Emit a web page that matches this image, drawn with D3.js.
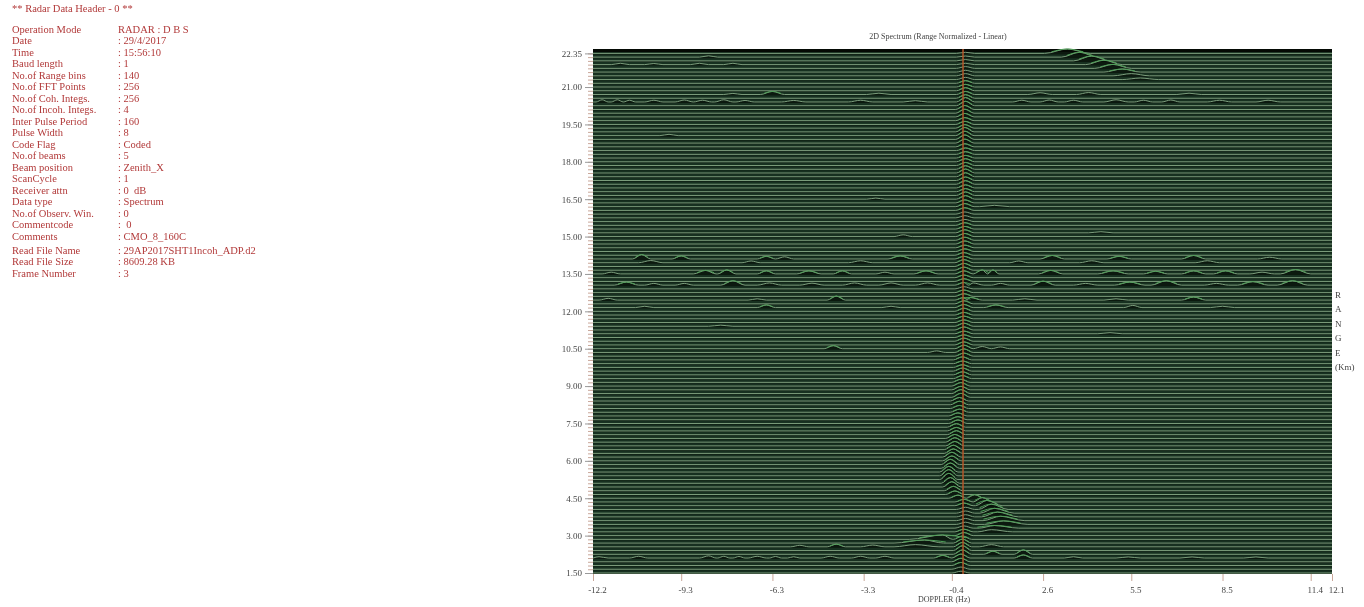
<!DOCTYPE html>
<html>
<head>
<meta charset="utf-8">
<title>2D Spectrum</title>
<script src="https://cdn.jsdelivr.net/npm/d3@7"></script>
<style>
  html, body { margin: 0; padding: 0; background: #fff; overflow: hidden; }
  svg { display: block; filter: blur(0.45px); }
  text { font-family: "Liberation Serif", serif; }
</style>
</head>
<body>
<div id="canvas"></div>
<script>
// Header block text
const headerLabels = ['Operation Mode', 'Date', 'Time', 'Baud length', 'No.of Range bins', 'No.of FFT Points',
  'No.of Coh. Integs.', 'No.of Incoh. Integs.', 'Inter Pulse Period', 'Pulse Width', 'Code Flag', 'No.of beams',
  'Beam position', 'ScanCycle', 'Receiver attn', 'Data type', 'No.of Observ. Win.', 'Commentcode', 'Comments'];
const headerValues = ['RADAR : D B S', ': 29/4/2017', ': 15:56:10', ': 1', ': 140', ': 256', ': 256', ': 4', ': 160', ': 8',
  ': Coded', ': 5', ': Zenith_X', ': 1', ': 0  dB', ': Spectrum', ': 0', ':  0', ': CMO_8_160C'];
const fileLabels = ['Read File Name', 'Read File Size', 'Frame Number'];
const fileValues = [': 29AP2017SHT1Incoh_ADP.d2', ': 8609.28 KB', ': 3'];

// Axis ticks
const rangeTicks = [1.5, 3, 4.5, 6, 7.5, 9, 10.5, 12, 13.5, 15, 16.5, 18, 19.5, 21, 22.35];
const dopplerTicks = [-12.2, -9.3, -6.3, -3.3, -0.4, 2.6, 5.5, 8.5, 11.4, 12.1];
const rangeLetters = ['R', 'A', 'N', 'G', 'E', '(Km)'];

// The 140 range gates, bottom to top (km)
const rangeGates = [1.5, 1.65, 1.8, 1.95, 2.1, 2.25, 2.4, 2.55, 2.7, 2.85,
  3, 3.15, 3.3, 3.45, 3.6, 3.75, 3.9, 4.05, 4.2, 4.35,
  4.5, 4.65, 4.8, 4.95, 5.1, 5.25, 5.4, 5.55, 5.7, 5.85,
  6, 6.15, 6.3, 6.45, 6.6, 6.75, 6.9, 7.05, 7.2, 7.35,
  7.5, 7.65, 7.8, 7.95, 8.1, 8.25, 8.4, 8.55, 8.7, 8.85,
  9, 9.15, 9.3, 9.45, 9.6, 9.75, 9.9, 10.05, 10.2, 10.35,
  10.5, 10.65, 10.8, 10.95, 11.1, 11.25, 11.4, 11.55, 11.7, 11.85,
  12, 12.15, 12.3, 12.45, 12.6, 12.75, 12.9, 13.05, 13.2, 13.35,
  13.5, 13.65, 13.8, 13.95, 14.1, 14.25, 14.4, 14.55, 14.7, 14.85,
  15, 15.15, 15.3, 15.45, 15.6, 15.75, 15.9, 16.05, 16.2, 16.35,
  16.5, 16.65, 16.8, 16.95, 17.1, 17.25, 17.4, 17.55, 17.7, 17.85,
  18, 18.15, 18.3, 18.45, 18.6, 18.75, 18.9, 19.05, 19.2, 19.35,
  19.5, 19.65, 19.8, 19.95, 20.1, 20.25, 20.4, 20.55, 20.7, 20.85,
  21, 21.15, 21.3, 21.45, 21.6, 21.75, 21.9, 22.05, 22.2, 22.35];

// Ground clutter ridge, one value per gate: where it peaks (Hz) and how tall (normalized)
const ridgeDoppler = [-.1, -.1, -.1, -.1, -.1, -.05, -.05, -.05, -.05, -.05,
  0, 0, 0, .05, .05, .05, .05, .05, 0, 0,
  -.2, -.3, -.35, -.4, -.45, -.5, -.5, -.5, -.45, -.45,
  -.4, -.4, -.35, -.35, -.3, -.3, -.3, -.25, -.25, -.25,
  -.2, -.2, -.2, -.15, -.15, -.15, -.15, -.1, -.1, -.1,
  -.1, -.1, -.05, -.05, -.05, -.05, -.05, -.05, 0, 0,
  0, 0, 0, 0, 0, 0, 0, 0, 0, 0,
  0, 0, 0, 0, 0, 0, 0, 0, 0, 0,
  0, 0, 0, 0, 0, 0, .03, .03, .03, .03,
  .03, .03, .03, .03, .03, .03, .03, .03, .03, .03,
  .05, .05, .05, .05, .05, .05, .05, .05, .05, .05,
  .05, .05, .05, .05, .03, .03, .03, .03, .03, .03,
  .03, .03, .03, .03, .03, .05, .05, .05, .05, .05,
  .05, .05, .05, .05, .05, .05, .05, .05, .05, .05];
const ridgeHeight = [.08, .1, .14, .16, .18, .2, .22, .2, .18, .15,
  .14, .12, .1, .1, .1, .1, .1, .1, .12, .12,
  .14, .16, .2, .24, .26, .28, .28, .26, .24, .24,
  .22, .22, .2, .2, .2, .2, .18, .18, .16, .16,
  .16, .14, .14, .14, .14, .16, .16, .18, .18, .16,
  .16, .14, .14, .14, .14, .12, .12, .14, .14, .16,
  .16, .14, .14, .12, .12, .14, .14, .12, .12, .12,
  .14, .14, .14, .12, .12, .12, .1, .12, .12, .12,
  .14, .14, .14, .14, .12, .12, .12, .12, .14, .14,
  .14, .14, .12, .12, .1, .1, .1, .12, .14, .14,
  .16, .16, .14, .14, .16, .16, .18, .18, .16, .14,
  .14, .12, .12, .12, .14, .18, .2, .2, .2, .16,
  .14, .14, .16, .18, .18, .2, .2, .16, .14, .14,
  .12, .12, .1, .1, .08, .08, .06, .06, .05, .05];

// Echoes away from the ridge: [gate km, doppler Hz, height, half width Hz]
const upperEcho = [[22.35, 3.4, .2, .75], [22.2, 3.8, .22, .6], [22.05, 4.2, .22, .6], [21.9, 4.6, .2, .6],
  [21.75, 4.9, .18, .6], [21.6, 5.2, .14, .6], [21.45, 5.5, .1, .6], [21.3, 5.8, .07, .6]];
const lowerEcho = [[4.5, .35, .16, .3], [4.35, .6, .2, .35], [4.2, .75, .24, .5], [4.05, .9, .24, .55], [3.9, 1.0, .22, .65],
  [3.75, 1.1, .22, .7], [3.6, 1.2, .2, .8], [3.45, 1.3, .16, .8], [3.3, 1.0, .12, .8], [3.15, .9, .1, .7],
  [2.85, -.7, .2, 1.1], [2.7, -1.3, .14, 1], [2.55, -1.6, .1, .8], [2.55, .9, .1, .4],
  [2.25, .95, .14, .3], [2.25, 1.95, .2, .3], [2.1, -.7, .12, .3], [2.1, 1.95, .14, .3]];

// Rows that ripple along the whole band: [gate km, doppler, height, half width]
const rippleRows = [
  [13.05, -11.1, .14, .4], [13.05, -10.2, .08, .3], [13.05, -9.2, .08, .3], [13.05, -7.6, .2, .4], [13.05, -6.4, .1, .4],
  [13.05, -5, .09, .4], [13.05, -3.6, .1, .4], [13.05, -2.4, .1, .4], [13.05, -1.2, .1, .4],
  [13.05, .3, .1, .35], [13.05, 1.2, .08, .3], [13.05, 2.6, .18, .4], [13.05, 4, .08, .4], [13.05, 5.45, .14, .5],
  [13.05, 6.65, .2, .5], [13.05, 8.3, .08, .4], [13.05, 9.5, .16, .5], [13.05, 10.8, .2, .5],
  [13.5, -11.6, .08, .3], [13.5, -8.5, .16, .4], [13.5, -7.8, .18, .3], [13.5, -6.5, .14, .3], [13.5, -5.1, .14, .4],
  [13.5, -4, .14, .3], [13.5, -2.6, .08, .3], [13.5, -1.25, .14, .4], [13.5, .6, .18, .3], [13.5, .95, .18, .2],
  [13.5, 2.85, .16, .4], [13.5, 4.9, .14, .5], [13.5, 6.3, .12, .4], [13.5, 7.55, .14, .4], [13.5, 8.6, .14, .4],
  [13.5, 9.8, .08, .4], [13.5, 10.9, .2, .5],
  [13.95, -10.3, .1, .4], [13.95, -7, .08, .3], [13.95, -3.4, .09, .4], [13.95, 1.8, .08, .3], [13.95, 4.2, .09, .4], [13.95, 8, .09, .4],
  [14.1, -10.6, .2, .3], [14.1, -9.3, .14, .3], [14.1, -6.5, .12, .3], [14.1, -5.9, .1, .3], [14.1, -2.1, .14, .4],
  [14.1, 2.9, .16, .4], [14.1, 5.1, .12, .4], [14.1, 7.55, .16, .4], [14.1, 10.05, .08, .4],
  [12.45, -4.2, .18, .3], [12.45, .2, .12, .4], [12.45, 2, .06, .4], [12.45, 7.55, .14, .4], [12.45, -11.7, .08, .3], [12.45, -6.8, .06, .3], [12.45, 5, .06, .4],
  [12.15, -10.5, .06, .3], [12.15, -6.5, .12, .3], [12.15, -2.4, .06, .3], [12.15, 1.05, .12, .4], [12.15, 5.55, .1, .3], [12.15, 8.5, .06, .4],
  [20.4, -11.9, .1, .2], [20.4, -11.4, .1, .2], [20.4, -11, .08, .2], [20.4, -10.2, .08, .3], [20.4, -9.2, .09, .3], [20.4, -8.6, .08, .3],
  [20.4, -7.9, .1, .3], [20.4, -7.2, .07, .3], [20.4, -5.6, .07, .4], [20.4, -3.4, .08, .4], [20.4, -1.6, .06, .4],
  [20.4, 1.9, .08, .3], [20.4, 2.8, .09, .3], [20.4, 3.6, .08, .3], [20.4, 5, .1, .4], [20.4, 5.9, .08, .3], [20.4, 6.8, .09, .3], [20.4, 8.4, .08, .4], [20.4, 10, .08, .4],
  [20.7, -6.3, .14, .4], [20.7, -7.6, .05, .3], [20.7, -2.8, .06, .4], [20.7, 2.5, .08, .4], [20.7, 4.1, .09, .4], [20.7, 7.4, .06, .4],
  [21.9, -11.3, .06, .3], [21.9, -10.2, .05, .3], [21.9, -8.7, .06, .3], [21.9, -7.6, .06, .3],
  [22.2, -8.4, .06, .3], [19.05, -9.7, .06, .3],
  [15, -2, .08, .3], [15.15, 4.5, .05, .4], [16.5, -2.9, .05, .3], [16.2, 1, .06, .5],
  [10.5, -4.3, .14, .3], [10.5, .6, .1, .4], [10.5, 1.2, .08, .3], [10.35, -.9, .07, .3], [11.1, 4.8, .05, .4], [11.4, -8, .05, .4],
  [2.1, -12, .06, .3], [2.1, -10.7, .08, .3], [2.1, -8.4, .1, .3], [2.1, -7.9, .08, .2], [2.1, -7.4, .07, .2], [2.1, -6.8, .08, .3],
  [2.1, -6.2, .07, .2], [2.1, -5.6, .06, .2], [2.1, -4.4, .08, .3], [2.1, -3.4, .08, .3], [2.1, -2.6, .08, .3],
  [2.1, 3.6, .06, .3], [2.1, 5.4, .05, .4], [2.1, 7.5, .05, .4], [2.1, 9.6, .05, .4],
  [2.55, -4.2, .12, .3], [2.55, -5.4, .07, .3], [2.55, -3, .08, .4]
];

// Layout
const width = 1364;
const height = 607;
const plotLeft = 593, plotRight = 1332, plotTop = 49, plotBottom = 574;

const svg = d3.select('#canvas').append('svg')
  .attr('width', width)
  .attr('height', height);

const x = d3.scaleLinear().domain([-12.2, 12.1]).range([plotLeft, plotRight]);
const y = d3.scaleLinear().domain([1.5, 22.35]).range([573, 53.4]);
// normalized power to pixels above the gate baseline
const amp = d3.scaleLinear().domain([0, 1]).range([0, 22]);

// Header text on the left
const red = '#b23a3a';
const header = svg.append('g').style('font-size', '10.5px').style('fill', red);
header.append('text').attr('x', 12).attr('y', 12).text('** Radar Data Header - 0 **');
const headerRow = d3.scaleLinear().domain([0, 1]).range([32.5, 44]);
const fileRow = d3.scaleLinear().domain([0, 1]).range([253.5, 265]);
headerLabels.forEach((label, i) => {
  header.append('text').attr('x', 12).attr('y', headerRow(i)).text(label);
  header.append('text').attr('x', 118).attr('y', headerRow(i)).attr('xml:space', 'preserve').text(headerValues[i]);
});
fileLabels.forEach((label, i) => {
  header.append('text').attr('x', 12).attr('y', fileRow(i)).text(label);
  header.append('text').attr('x', 118).attr('y', fileRow(i)).text(fileValues[i]);
});

// Plot background
svg.append('rect')
  .attr('x', plotLeft).attr('y', plotTop)
  .attr('width', plotRight - plotLeft).attr('height', plotBottom - plotTop)
  .attr('fill', '#173020');
svg.append('rect')
  .attr('x', plotLeft).attr('y', plotTop)
  .attr('width', plotRight - plotLeft).attr('height', 3)
  .attr('fill', '#050a05');

// Collect peaks per gate, clutter ridge + echoes + ripples
const peaksByGate = rangeGates.map((km, i) => {
  const peaks = [[ridgeDoppler[i], ridgeHeight[i], .3]];
  [upperEcho, lowerEcho, rippleRows].forEach(list => {
    list.filter(p => Math.abs(p[0] - km) < .01).forEach(p => peaks.push([p[1], p[2], p[3]]));
  });
  return peaks.sort((a, b) => a[0] - b[0]);
});

// Turns the peaks of one gate into a spectrum line, shoulders cut off half way to the next peak
function spectrum(peaks) {
  const pts = [[-12.2, 0]];
  peaks.forEach((p, i) => {
    const lo = i > 0 ? (peaks[i - 1][0] + p[0]) / 2 : -12.2;
    const hi = i < peaks.length - 1 ? (peaks[i + 1][0] + p[0]) / 2 : 12.1;
    const left = Math.max(p[0] - p[2], lo);
    if (left > pts[pts.length - 1][0]) pts.push([left, 0]);
    pts.push([p[0], p[1]]);
    pts.push([Math.min(p[0] + p[2], hi), 0]);
  });
  pts.push([12.1, 0]);
  return pts;
}

const g = svg.append('g');

// far gates first, so the nearer ones hide what is behind their bumps
d3.range(rangeGates.length - 1, -1, -1).forEach(i => {
  const base = y(rangeGates[i]);
  const pts = spectrum(peaksByGate[i]);
  const lineY = d => Math.max(plotTop, base - amp(d[1]));

  g.append('path')
    .attr('d', d3.area().x(d => x(d[0])).y0(base + 1).y1(lineY).curve(d3.curveMonotoneX)(pts))
    .attr('fill', '#050a05')
    .attr('fill-opacity', .6);

  g.append('path')
    .attr('d', d3.line().x(d => x(d[0])).y(lineY).curve(d3.curveMonotoneX)(pts))
    .attr('fill', 'none')
    .attr('stroke', '#7c9d7c')
    .attr('stroke-width', 1);
});

// Bumps again in stronger green on top of the pale baselines
peaksByGate.forEach((peaks, i) => {
  const base = y(rangeGates[i]);
  peaks.filter(p => p[1] > .1).forEach(p => {
    const bump = [[p[0] - p[2] * .7, p[1] * .35], [p[0], p[1]], [p[0] + p[2] * .7, p[1] * .35]];
    g.append('path')
      .attr('d', d3.line().x(d => x(d[0])).y(d => base - amp(d[1])).curve(d3.curveMonotoneX)(bump))
      .attr('fill', 'none')
      .attr('stroke', '#4f9f58')
      .attr('stroke-width', 1);
  });
});

// Zero doppler marker
svg.append('line')
  .attr('x1', x(0) - 1).attr('x2', x(0) - 1)
  .attr('y1', plotTop).attr('y2', plotBottom)
  .attr('stroke', '#b5562a')
  .attr('stroke-width', 1.5);

// Axes
const tickColor = '#c9a79a';
const minorAxis = svg.append('g')
  .attr('transform', `translate(${plotLeft},0)`)
  .call(d3.axisLeft(y).tickValues(rangeGates).tickSize(5).tickFormat(''));
minorAxis.select('.domain').remove();
minorAxis.selectAll('line').attr('stroke', tickColor);

const leftAxis = svg.append('g')
  .attr('transform', `translate(${plotLeft},0)`)
  .call(d3.axisLeft(y).tickValues(rangeTicks).tickSize(8).tickPadding(3).tickFormat(d => d.toFixed(2)));
leftAxis.select('.domain').remove();
leftAxis.selectAll('line').attr('stroke', '#999');
leftAxis.selectAll('text')
  .style('font-family', '"Liberation Serif", serif')
  .style('font-size', '9px')
  .attr('fill', '#444');

const bottomAxis = svg.append('g')
  .attr('transform', `translate(0,${plotBottom})`)
  .call(d3.axisBottom(x).tickValues(dopplerTicks).tickSize(7).tickPadding(6).tickFormat(d => d.toFixed(1)));
bottomAxis.select('.domain').remove();
bottomAxis.selectAll('line').attr('stroke', tickColor);
bottomAxis.selectAll('text')
  .style('font-family', '"Liberation Serif", serif')
  .style('font-size', '9px')
  .attr('dx', 4)
  .attr('fill', '#444');

// Titles
svg.append('text')
  .attr('x', 938).attr('y', 39)
  .attr('text-anchor', 'middle')
  .style('font-size', '8px').style('fill', '#444')
  .text('2D Spectrum (Range Normalized - Linear)');

svg.append('text')
  .attr('x', 944).attr('y', 602)
  .attr('text-anchor', 'middle')
  .style('font-size', '8px').style('fill', '#444')
  .text('DOPPLER (Hz)');

const letterRow = d3.scaleLinear().domain([0, 1]).range([298, 312.4]);
rangeLetters.forEach((letter, i) => {
  svg.append('text')
    .attr('x', 1335).attr('y', letterRow(i))
    .style('font-size', '9px').style('fill', '#444')
    .text(letter);
});
</script>
</body>
</html>
